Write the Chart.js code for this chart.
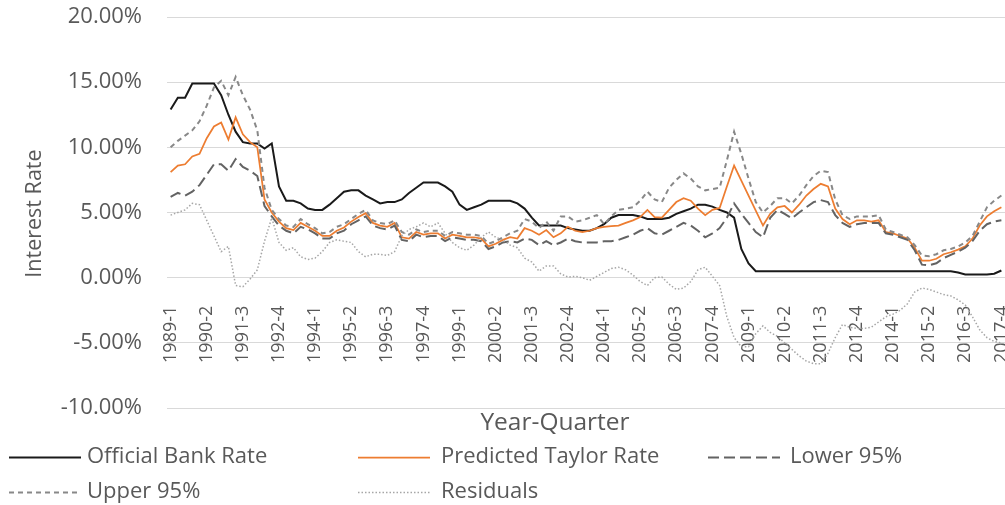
<!DOCTYPE html>
<html>
<head>
<meta charset="utf-8">
<script src="https://cdn.jsdelivr.net/npm/chart.js@4"></script>
<style>
  html, body { margin: 0; padding: 0; background: #fff; }
  #wrap { width: 1005px; height: 505px; }
</style>
</head>
<body>
<div id="wrap"><canvas id="rateChart" width="1005" height="505"></canvas></div>
<script>
(function() {
'use strict';

// Year-quarter categories, 1989-1 .. 2017-4
const quarters = [];
for (let y = 1989; y <= 2017; y++) {
    for (let q = 1; q <= 4; q++) quarters.push(y + '-' + q);
}

// values in percent, one row per year
const bankRate = [
    12.9, 13.8, 13.8, 14.9,
    14.9, 14.9, 14.9, 14.0,
    12.5, 11.2, 10.4, 10.3,
    10.3, 9.9, 10.3, 7.0,
    5.9, 5.9, 5.7, 5.3,
    5.2, 5.2, 5.6, 6.1,
    6.6, 6.7, 6.7, 6.3,
    6.0, 5.7, 5.8, 5.8,
    6.0, 6.5, 6.9, 7.3,
    7.3, 7.3, 7.0, 6.6,
    5.6, 5.2, 5.4, 5.6,
    5.9, 5.9, 5.9, 5.9,
    5.7, 5.3, 4.6, 4.0,
    4.0, 4.0, 4.0, 3.8,
    3.7, 3.6, 3.6, 3.8,
    4.1, 4.6, 4.8, 4.8,
    4.8, 4.7, 4.5, 4.5,
    4.5, 4.6, 4.9, 5.1,
    5.3, 5.6, 5.6, 5.45,
    5.2, 5.0, 4.6, 2.2,
    1.1, 0.5, 0.5, 0.5,
    0.5, 0.5, 0.5, 0.5,
    0.5, 0.5, 0.5, 0.5,
    0.5, 0.5, 0.5, 0.5,
    0.5, 0.5, 0.5, 0.5,
    0.5, 0.5, 0.5, 0.5,
    0.5, 0.5, 0.5, 0.5,
    0.5, 0.4, 0.25, 0.25,
    0.25, 0.25, 0.3, 0.55
];

const taylorRate = [
    8.1, 8.6, 8.7, 9.3,
    9.5, 10.7, 11.6, 11.9,
    10.6, 12.3, 11.0, 10.4,
    10.0, 6.0, 5.0, 4.3,
    3.8, 3.65, 4.2, 3.9,
    3.6, 3.2, 3.2, 3.6,
    3.85, 4.3, 4.65, 4.95,
    4.2, 4.0, 3.9, 4.2,
    3.1, 3.0, 3.5, 3.3,
    3.4, 3.4, 3.0, 3.3,
    3.2, 3.1, 3.1, 3.0,
    2.4, 2.6, 2.9, 3.1,
    3.0, 3.8, 3.6, 3.3,
    3.65, 3.1, 3.4, 3.9,
    3.6, 3.5, 3.6, 3.8,
    3.9, 3.95, 4.0, 4.2,
    4.4, 4.65, 5.2, 4.65,
    4.6, 5.2, 5.8, 6.1,
    5.9, 5.3, 4.8, 5.2,
    5.35, 7.0, 8.6, 7.45,
    6.3, 5.15, 4.0, 4.9,
    5.4, 5.5, 5.0, 5.6,
    6.3, 6.8, 7.2, 7.0,
    5.3, 4.5, 4.1, 4.4,
    4.4, 4.3, 4.4, 3.5,
    3.4, 3.2, 3.0, 2.3,
    1.3, 1.3, 1.45, 1.8,
    1.95, 2.15, 2.4, 3.0,
    4.0, 4.7, 5.1, 5.4
];

const lower95 = [
    6.2, 6.5, 6.3, 6.6,
    7.1, 7.9, 8.7, 8.7,
    8.2, 9.1, 8.5, 8.2,
    7.8, 5.5, 4.7, 4.0,
    3.6, 3.4, 3.9, 3.7,
    3.4, 3.0, 3.0, 3.4,
    3.6, 4.1, 4.4, 4.7,
    4.0, 3.8, 3.7, 4.0,
    2.9, 2.8, 3.3, 3.1,
    3.2, 3.2, 2.8, 3.1,
    3.0, 2.9, 2.9, 2.8,
    2.2, 2.4, 2.7, 2.8,
    2.7, 3.0, 2.9, 2.5,
    2.8, 2.5, 2.7, 3.0,
    2.8, 2.7, 2.7, 2.7,
    2.8, 2.8, 2.9, 3.1,
    3.3, 3.6, 3.8, 3.4,
    3.3, 3.6, 3.9, 4.2,
    4.0, 3.6, 3.1, 3.4,
    3.8, 4.6, 5.7, 4.9,
    4.2, 3.5, 3.1, 4.6,
    5.2, 4.9, 4.55, 5.0,
    5.4, 5.8, 5.95, 5.8,
    4.8, 4.2, 3.9, 4.1,
    4.2, 4.2, 4.2, 3.4,
    3.3, 3.1, 2.9, 2.1,
    1.0, 0.95, 1.1, 1.5,
    1.75, 2.0, 2.3, 2.8,
    3.6, 4.1, 4.3, 4.4
];

const upper95 = [
    10.0, 10.5, 10.9, 11.3,
    12.0, 13.2, 14.6, 15.1,
    14.0, 15.4, 14.0, 12.9,
    11.3, 6.9, 5.2, 4.5,
    4.0, 3.9, 4.5, 4.1,
    3.8, 3.4, 3.5, 3.9,
    4.1, 4.5, 4.9, 5.2,
    4.4, 4.2, 4.1, 4.4,
    3.5, 3.3, 3.7, 3.5,
    3.6, 3.6, 3.2, 3.5,
    3.4, 3.3, 3.3, 3.2,
    2.6, 2.8, 3.1, 3.4,
    3.6, 4.5, 4.3, 3.8,
    4.3, 3.6, 4.7, 4.7,
    4.3, 4.4, 4.6, 4.8,
    4.1, 4.7, 5.2, 5.3,
    5.4, 5.9, 6.6, 6.0,
    5.8, 6.9, 7.5, 8.0,
    7.6, 7.0, 6.7, 6.8,
    6.9, 9.0, 11.2, 9.5,
    7.6, 5.8, 5.0, 5.5,
    6.1, 6.1, 5.7, 6.3,
    7.1, 7.8, 8.2, 8.1,
    6.0, 4.8, 4.5, 4.7,
    4.7, 4.7, 4.8, 3.7,
    3.5, 3.3, 3.1, 2.5,
    1.7, 1.65, 1.8, 2.1,
    2.2, 2.4, 2.7, 3.2,
    4.3, 5.4, 5.9, 6.3
];

const residuals = [
    4.8, 5.0, 5.2, 5.7,
    5.6, 4.4, 3.2, 2.0,
    2.4, -0.6, -0.7, -0.1,
    0.6, 2.8, 4.6, 2.7,
    2.1, 2.3, 1.6, 1.4,
    1.5, 2.0, 2.7, 2.9,
    2.8, 2.7, 2.0, 1.6,
    1.8, 1.8, 1.7, 2.0,
    3.2, 3.7, 3.9, 4.2,
    3.9, 4.2, 3.4, 2.7,
    2.3, 2.1, 2.5, 3.1,
    3.5, 3.1, 2.9, 2.5,
    2.3, 1.5, 1.2, 0.5,
    0.9, 0.9, 0.3, 0.05,
    0.1, 0.0, -0.2, 0.1,
    0.4, 0.7, 0.8, 0.6,
    0.2, -0.3, -0.6, 0.0,
    0.05, -0.5, -0.9, -0.8,
    -0.3, 0.6, 0.8, 0.1,
    -0.6, -3.0, -4.6, -5.3,
    -5.3, -4.3, -3.7, -4.2,
    -4.5, -5.0, -5.5, -6.0,
    -6.4, -6.6, -6.6, -5.8,
    -4.6, -3.6, -3.8, -3.9,
    -3.9, -3.8, -3.4, -3.0,
    -2.8, -2.5, -2.0, -1.1,
    -0.8, -0.9, -1.1, -1.3,
    -1.4, -1.7, -2.1, -3.0,
    -4.0, -4.6, -4.9, -5.0
];

const seriesNames = ['Official Bank Rate', 'Predicted Taylor Rate', 'Lower 95%', 'Upper 95%', 'Residuals'];

const FONT = '"Open Sans", "Noto Sans", sans-serif';
const TEXT = '#595959';

function lineSet(label, data, color, width, dash, order) {
    return {
        label: label,
        data: data,
        borderColor: color,
        backgroundColor: color,
        borderWidth: width,
        borderDash: dash,
        pointRadius: 0,
        pointHoverRadius: 0,
        tension: 0,
        fill: false,
        order: order
    };
}

// axis titles + legend in a fixed grid, drawn like the Excel original
const excelDecor = {
    id: 'excelDecor',
    afterDraw(chart) {
        const ctx = chart.ctx;
        const yScale = chart.scales.y;
        const slots = [
            { ds: 0, x: 9, tx: 87, y: 457 },
            { ds: 1, x: 358, tx: 441, y: 457 },
            { ds: 2, x: 708, tx: 790, y: 457 },
            { ds: 3, x: 9, tx: 87, y: 492 },
            { ds: 4, x: 358, tx: 441, y: 492 }
        ];
        ctx.save();
        ctx.textBaseline = 'middle';
        ctx.fillStyle = TEXT;

        // y axis title, reads upward starting level with the 0% line
        ctx.save();
        ctx.translate(35, yScale.getPixelForValue(0));
        ctx.rotate(-Math.PI / 2);
        ctx.font = '21.5px ' + FONT;
        ctx.textAlign = 'left';
        ctx.fillText('Interest Rate', 0, 0);
        ctx.restore();

        // x axis title
        ctx.font = '24.5px ' + FONT;
        ctx.textAlign = 'center';
        ctx.fillText('Year-Quarter', 555, 423);

        ctx.font = '22px ' + FONT;
        ctx.textAlign = 'left';
        slots.forEach(function(s) {
            const ds = chart.data.datasets[s.ds];
            ctx.save();
            ctx.strokeStyle = ds.borderColor;
            ctx.lineWidth = ds.borderWidth;
            ctx.setLineDash(ds.borderDash || []);
            ctx.beginPath();
            ctx.moveTo(s.x, s.y + 0.5);
            ctx.lineTo(s.x + 72, s.y + 0.5);
            ctx.stroke();
            ctx.restore();
            ctx.fillStyle = TEXT;
            ctx.fillText(ds.label, s.tx, s.y);
        });
        ctx.restore();
    }
};

const ctx = document.getElementById('rateChart');
new Chart(ctx, {
    type: 'line',
    data: {
        labels: quarters,
        datasets: [
            lineSet(seriesNames[0], bankRate, '#1a1a1a', 2, [], 5),
            lineSet(seriesNames[1], taylorRate, '#ED7D31', 1.75, [], 4),
            lineSet(seriesNames[2], lower95, '#636363', 2, [11, 5], 3),
            lineSet(seriesNames[3], upper95, '#888888', 2, [5, 4], 2),
            lineSet(seriesNames[4], residuals, '#a6a6a6', 1.5, [1.5, 2], 1)
        ]
    },
    options: {
        responsive: false,
        animation: false,
        layout: { padding: { top: 17, right: 0, bottom: 97, left: 0 } },
        plugins: {
            legend: { display: false },
            tooltip: { enabled: false }
        },
        scales: {
            x: {
                type: 'category',
                position: { y: 0 },
                offset: true,
                grid: { display: false, drawTicks: false },
                border: { display: true, color: '#d9d9d9', width: 1 },
                ticks: {
                    autoSkip: false,
                    minRotation: 90,
                    maxRotation: 90,
                    padding: 28,
                    color: TEXT,
                    font: { family: FONT, size: 18 },
                    callback: function(value, index) {
                        return index % 5 === 0 ? this.getLabelForValue(value) : '';
                    }
                },
                afterFit: function(scale) {
                    scale.paddingLeft = 0;
                    scale.paddingRight = 0;
                    scale.paddingTop = 0;
                    scale.paddingBottom = 0;
                }
            },
            y: {
                min: -10,
                max: 20,
                grid: { color: '#d9d9d9', lineWidth: 1, drawTicks: false },
                border: { display: false },
                ticks: {
                    stepSize: 5,
                    padding: 25,
                    color: TEXT,
                    font: { family: FONT, size: 22 },
                    callback: function(v) { return v.toFixed(2) + '%'; }
                },
                afterFit: function(scale) {
                    scale.width = 167;
                    scale.paddingTop = 0;
                    scale.paddingBottom = 0;
                }
            }
        }
    },
    plugins: [excelDecor]
});

})();
</script>
</body>
</html>
